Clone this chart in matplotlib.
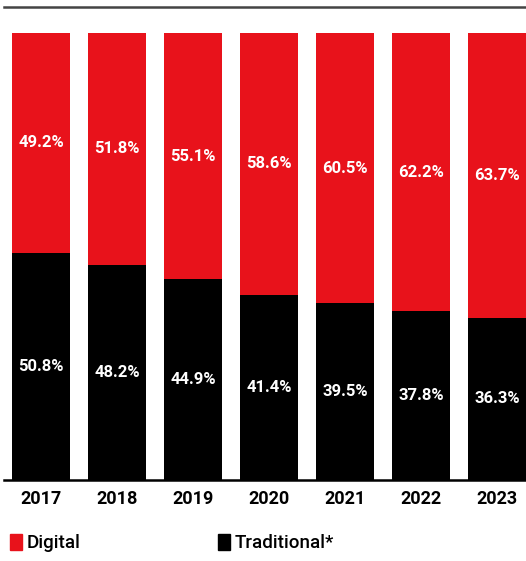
import matplotlib.pyplot as plt
from matplotlib.patches import Patch
import numpy as np

years = ["2017", "2018", "2019", "2020", "2021", "2022", "2023"]
digital = [49.2, 51.8, 55.1, 58.6, 60.5, 62.2, 63.7]
traditional = [50.8, 48.2, 44.9, 41.4, 39.5, 37.8, 36.3]

red = "#e8121b"
font = ["Roboto", "DejaVu Sans"]

fig = plt.figure(figsize=(5.26, 5.61), dpi=100)
ax = fig.add_axes([4 / 526, 1 - 480 / 561, 522 / 526, (480 - 7) / 561])

x = np.arange(len(years))
w = 0.763
ax.bar(x, traditional, w, color="black")
ax.bar(x, digital, w, bottom=traditional, color=red)

# value labels centred in each segment
for i in range(len(years)):
    ax.text(x[i], traditional[i] / 2, f"{traditional[i]:.1f}%", ha="center", va="center",
            color="white", fontsize=12, fontweight="bold", family=font)
    ax.text(x[i], traditional[i] + digital[i] / 2, f"{digital[i]:.1f}%", ha="center", va="center",
            color="white", fontsize=12, fontweight="bold", family=font)

ax.set_xlim(-0.487, 6.38)
ax.set_ylim(0, 100 * (480 - 7) / (480 - 33))

ax.set_xticks(x)
ax.set_xticklabels(years, fontsize=13, fontweight="bold", family=font)
ax.tick_params(axis="x", length=0, pad=7)
ax.set_yticks([])

for s in ["left", "right"]:
    ax.spines[s].set_visible(False)
ax.spines["bottom"].set_linewidth(1.8)
ax.spines["top"].set_linewidth(1.8)
ax.spines["top"].set_color("#444444")

# two separate legend entries, placed like the original
y_leg = 1 - 543 / 561
for color, label, x0 in [(red, "Digital", 10 / 526), ("black", "Traditional*", 218 / 526)]:
    fig.legend(handles=[Patch(color=color, label=label)], loc="center left",
               bbox_to_anchor=(x0, y_leg), frameon=False, borderpad=0, borderaxespad=0,
               handlelength=0.64, handleheight=1.0, handletextpad=0.27,
               prop={"family": font, "size": 13.5, "weight": "medium"})

fig.savefig("out.png", dpi=100)
